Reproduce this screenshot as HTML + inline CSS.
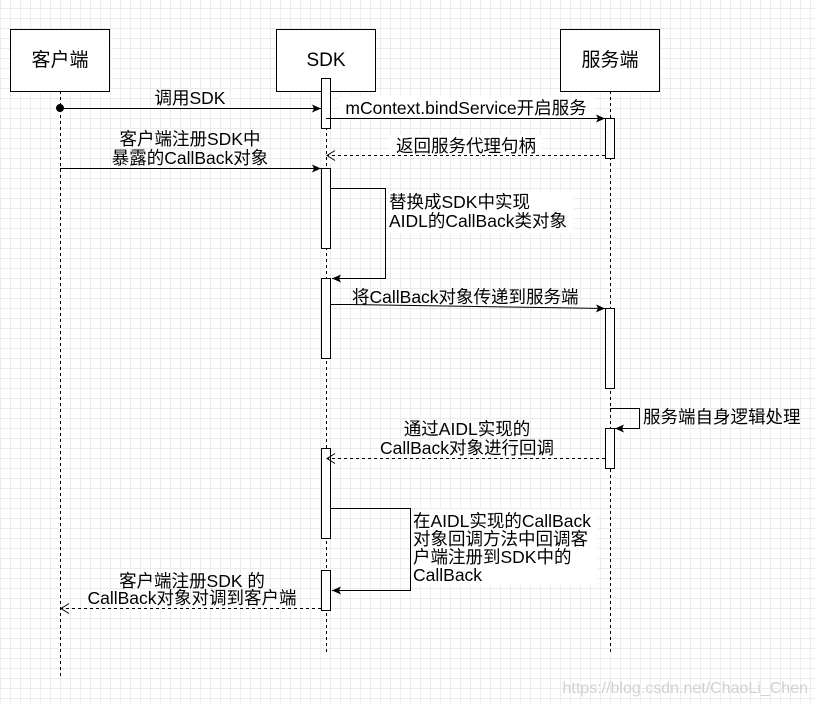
<!DOCTYPE html>
<html><head><meta charset="utf-8"><style>
html,body{margin:0;padding:0;}
body{width:815px;height:704px;overflow:hidden;background:#fff;
background-image:linear-gradient(#ececec 1px,transparent 1px),linear-gradient(90deg,#ececec 1px,transparent 1px);
background-size:10px 10px;background-position:0 8px;}
svg text{font-family:"Liberation Sans","Noto Sans CJK SC",sans-serif;font-size:17.5px;fill:#000;}
</style></head><body>
<svg width="815" height="704" xmlns="http://www.w3.org/2000/svg" style="position:absolute;left:0;top:0">
<defs>
<marker id="a" markerWidth="10" markerHeight="10" refX="9" refY="5" orient="auto" markerUnits="userSpaceOnUse"><path d="M0,1 L9,5 L0,9 L2,5 Z" fill="#000"/></marker>
<marker id="o" markerWidth="10" markerHeight="12" refX="9" refY="6" orient="auto" markerUnits="userSpaceOnUse"><path d="M1,1 L9,6 L1,11" fill="none" stroke="#000"/></marker>
</defs>
<g stroke="#000" stroke-dasharray="3,3" fill="none">
<line x1="60.5" y1="91" x2="60.5" y2="678"/>
<line x1="326.5" y1="91" x2="326.5" y2="655"/>
<line x1="610.5" y1="91" x2="610.5" y2="655"/>
</g>
<g fill="#fff" stroke="#000">
<rect x="10.5" y="29.5" width="99" height="62"/>
<rect x="276.5" y="29.5" width="99" height="62"/>
<rect x="560.5" y="29.5" width="99" height="62"/>
<rect x="321.5" y="78.5" width="9" height="50"/>
<rect x="321.5" y="168.5" width="9" height="80"/>
<rect x="321.5" y="278.5" width="9" height="80"/>
<rect x="321.5" y="448.5" width="9" height="90"/>
<rect x="321.5" y="570.5" width="9" height="40"/>
<rect x="605.5" y="118.5" width="9" height="40"/>
<rect x="605.5" y="308.5" width="9" height="80"/>
<rect x="605.5" y="428.5" width="9" height="40"/>
</g>
<text x="60" y="66" text-anchor="middle" style="font-size:19px">客户端</text>
<text x="326" y="66" text-anchor="middle" style="font-size:19px">SDK</text>
<text x="610" y="66" text-anchor="middle" style="font-size:19px">服务端</text>
<g stroke="#000" fill="none">
<circle cx="60" cy="108" r="3.5" fill="#000"/>
<line x1="60" y1="108.5" x2="321" y2="108.5" marker-end="url(#a)"/>
<line x1="326" y1="118.5" x2="605" y2="118.5" marker-end="url(#a)"/>
<line x1="605" y1="155.5" x2="327" y2="155.5" stroke-dasharray="3,3" marker-end="url(#o)"/>
<line x1="60" y1="168.5" x2="321" y2="168.5" marker-end="url(#a)"/>
<polyline points="331,188.5 385.5,188.5 385.5,278.5 332,278.5" marker-end="url(#a)"/>
<polyline points="331,304.5 350,304.5 605,308.5" marker-end="url(#a)"/>
<polyline points="610,408.5 639.5,408.5 639.5,428.5 615,428.5" marker-end="url(#a)"/>
<line x1="605" y1="458.5" x2="327" y2="458.5" stroke-dasharray="3,3" marker-end="url(#o)"/>
<polyline points="331,508.5 410.5,508.5 410.5,590.5 332,590.5" marker-end="url(#a)"/>
<line x1="321" y1="608.5" x2="61" y2="608.5" stroke-dasharray="3,3" marker-end="url(#o)"/>
</g>
<text x="190" y="104" text-anchor="middle">调用SDK</text>
<rect x="338" y="97" width="256" height="20" fill="#fff"/>
<text x="466" y="114" text-anchor="middle">mContext.bindService开启服务</text>
<rect x="390" y="135" width="152" height="19" fill="#fff"/>
<text x="466" y="152" text-anchor="middle">返回服务代理句柄</text>
<text x="190" y="145" text-anchor="middle">客户端注册SDK中</text>
<text x="190" y="164" text-anchor="middle">暴露的CallBack对象</text>
<rect x="388" y="191" width="186" height="42" fill="#fff"/>
<text x="389" y="208">替换成SDK中实现</text>
<text x="389" y="227">AIDL的CallBack类对象</text>
<text x="352" y="303">将CallBack对象传递到服务端</text>
<text x="643" y="423">服务端自身逻辑处理</text>
<text x="467" y="435" text-anchor="middle">通过AIDL实现的</text>
<text x="467" y="454" text-anchor="middle">CallBack对象进行回调</text>
<rect x="412" y="509" width="186" height="76" fill="#fff"/>
<text x="413" y="527">在AIDL实现的CallBack</text>
<text x="413" y="545">对象回调方法中回调客</text>
<text x="413" y="563">户端注册到SDK中的</text>
<text x="413" y="581">CallBack</text>
<text x="192" y="587" text-anchor="middle">客户端注册SDK 的</text>
<text x="192" y="604" text-anchor="middle">CallBack对象对调到客户端</text>
<text x="808" y="693" text-anchor="end" style="font-size:16px;fill:#d0d0d0">https://blog.csdn.net/ChaoLi_Chen</text>
</svg>
</body></html>
